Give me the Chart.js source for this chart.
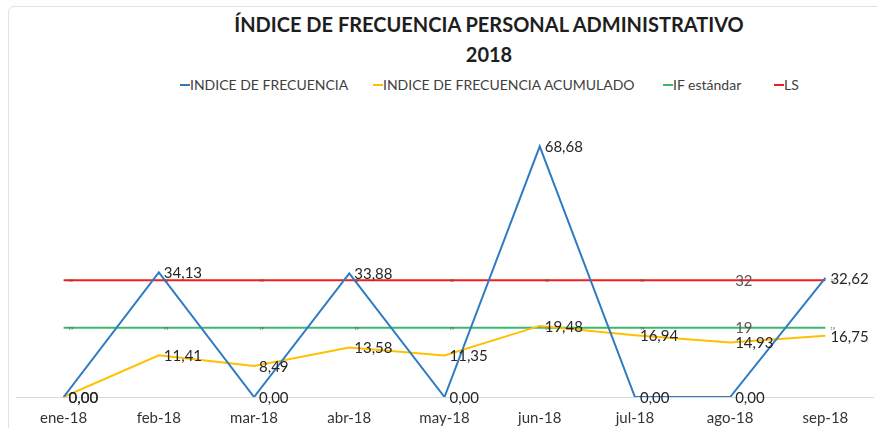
<!DOCTYPE html>
<html>
<head>
<meta charset="utf-8">
<script src="https://cdn.jsdelivr.net/npm/chart.js@4.4.1/dist/chart.umd.min.js"></script>
<style>
html, body { margin: 0; padding: 0; background: #fff; }
#wrap { position: relative; width: 877px; height: 428px; overflow: hidden; font-family: Lato, sans-serif; }
#marco { position: absolute; left: 8px; top: 6px; width: 900px; height: 460px; border: 1px solid #e2e2e2; border-radius: 6px; }
.titulo { position: absolute; left: 0; width: 978px; text-align: center; font-weight: bold; font-size: 20px; color: #1e1e1e; white-space: nowrap; }
.ley { position: absolute; top: 77px; font-size: 14px; color: #404040; white-space: nowrap; line-height: 16px; }
.ley i { display: inline-block; width: 10px; height: 2px; vertical-align: middle; position: relative; top: -1px; }
canvas { position: absolute; left: 0; top: 0; }
</style>
</head>
<body>
<div id="wrap">
  <div id="marco"></div>
  <div class="titulo" style="top:12px">ÍNDICE DE FRECUENCIA PERSONAL ADMINISTRATIVO</div>
  <div class="titulo" style="top:42px">2018</div>
  <div id="leyenda"></div>
  <canvas id="grafico" width="877" height="428"></canvas>
</div>
<script>
const meses = ['ene-18', 'feb-18', 'mar-18', 'abr-18', 'may-18', 'jun-18', 'jul-18', 'ago-18', 'sep-18'];
const indiceFrecuencia = [0, 34.13, 0, 33.88, 0, 68.68, 0, 0, 32.62];
const indiceAcumulado = [0, 11.41, 8.49, 13.58, 11.35, 19.48, 16.94, 14.93, 16.75];
const ifEstandar = [19, 19, 19, 19, 19, 19, 19, 19, 19];
const limiteSup = [32, 32, 32, 32, 32, 32, 32, 32, 32];
const nombres = ['INDICE DE FRECUENCIA', 'INDICE DE FRECUENCIA ACUMULADO', 'IF estándar', 'LS'];
const colores = ['#2e7bc4', '#ffc000', '#3cb86c', '#f01d1d'];

// leyenda en HTML (en el original esta desplazada respecto al area del grafico)
const posLeyenda = [180, 373, 663, 774];
const leyenda = document.getElementById('leyenda');
nombres.forEach((n, i) => {
    const d = document.createElement('div');
    d.className = 'ley';
    d.style.left = posLeyenda[i] + 'px';
    d.innerHTML = '<i style="background:' + colores[i] + '"></i>' + n;
    leyenda.appendChild(d);
});

// etiquetas de datos a la derecha de cada punto
const etiquetas = {
    id: 'etiquetas',
    afterDatasetsDraw(chart) {
        const ctx = chart.ctx;
        ctx.save();
        ctx.textBaseline = 'middle';
        ctx.textAlign = 'left';
        chart.data.datasets.forEach((ds, i) => {
            const meta = chart.getDatasetMeta(i);
            meta.data.forEach((pt, j) => {
                const v = ds.data[j];
                let tam = 15;
                let txt = ds.decimales ? v.toFixed(2).replace('.', ',') : String(v);
                if (ds.etiquetaEn !== undefined && ds.etiquetaEn !== j) tam = 4;
                ctx.font = tam + 'px Lato';
                ctx.fillStyle = ds.decimales ? '#262626' : '#595959';
                ctx.fillText(txt, pt.x + 5, pt.y + 1);
            });
        });
        ctx.restore();
    }
};

const ctx = document.getElementById('grafico').getContext('2d');
new Chart(ctx, {
    type: 'line',
    data: {
        labels: meses,
        datasets: [
            { label: nombres[0], data: indiceFrecuencia, borderColor: colores[0], decimales: true },
            { label: nombres[1], data: indiceAcumulado, borderColor: colores[1], decimales: true },
            { label: nombres[2], data: ifEstandar, borderColor: colores[2], etiquetaEn: 7 },
            { label: nombres[3], data: limiteSup, borderColor: colores[3], etiquetaEn: 7 }
        ]
    },
    options: {
        responsive: false,
        animation: false,
        layout: { padding: { top: 105, left: 16, right: 4, bottom: -11 } },
        elements: {
            line: { borderWidth: 2, tension: 0, fill: false },
            point: { radius: 0, hoverRadius: 0 }
        },
        plugins: {
            legend: { display: false },
            title: { display: false },
            tooltip: { enabled: false }
        },
        scales: {
            x: {
                offset: true,
                grid: { display: false, drawTicks: false },
                border: { display: true, color: '#d9d9d9', width: 1 },
                ticks: { color: '#333333', font: { family: 'Lato', size: 15 }, padding: 12, maxRotation: 0 }
            },
            y: {
                display: false,
                min: 0,
                max: 80
            }
        }
    },
    plugins: [etiquetas]
});
</script>
</body>
</html>
